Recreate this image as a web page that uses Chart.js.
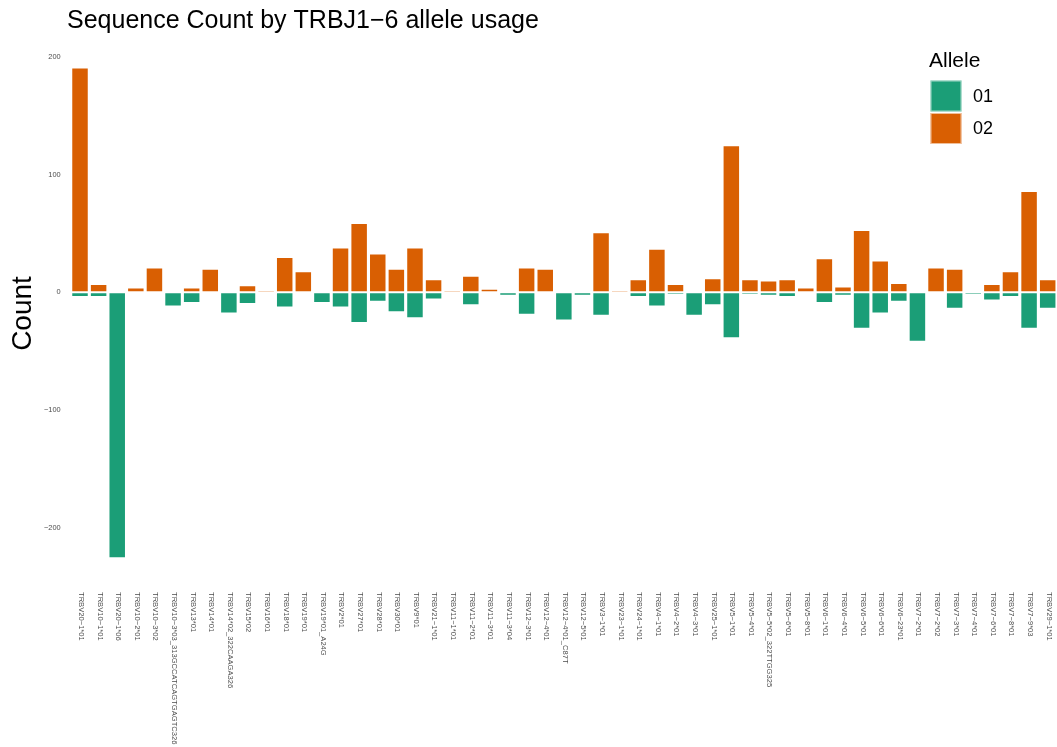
<!DOCTYPE html>
<html>
<head>
<meta charset="utf-8">
<script src="https://cdn.jsdelivr.net/npm/chart.js@4.4.1/dist/chart.umd.min.js"></script>
<style>
  html, body { margin: 0; padding: 0; background: #ffffff; }
  #c { display: block; }
</style>
</head>
<body>
<canvas id="c" width="1057" height="747" style="width:1057px;height:747px"></canvas>
<script>
const chartTitle = "Sequence Count by TRBJ1\u22126 allele usage";
const yAxisTitle = "Count";
const legendTitle = "Allele";

const categories = [
  "TRBV20-1*01","TRBV10-1*01","TRBV20-1*06","TRBV10-2*01","TRBV10-3*02",
  "TRBV10-3*03_313GCCATCAGTGAGTC326","TRBV13*01","TRBV14*01","TRBV14*02_322CAAGA326","TRBV15*02",
  "TRBV16*01","TRBV18*01","TRBV19*01","TRBV19*01_A24G","TRBV2*01",
  "TRBV27*01","TRBV28*01","TRBV30*01","TRBV9*01","TRBV21-1*01",
  "TRBV11-1*01","TRBV11-2*01","TRBV11-3*01","TRBV11-3*04","TRBV12-3*01",
  "TRBV12-4*01","TRBV12-4*01_C87T","TRBV12-5*01","TRBV3-1*01","TRBV23-1*01",
  "TRBV24-1*01","TRBV4-1*01","TRBV4-2*01","TRBV4-3*01","TRBV25-1*01",
  "TRBV5-1*01","TRBV5-4*01","TRBV5-5*02_322TTGG325","TRBV5-6*01","TRBV5-8*01",
  "TRBV6-1*01","TRBV6-4*01","TRBV6-5*01","TRBV6-6*01","TRBV6-23*01",
  "TRBV7-2*01","TRBV7-2*02","TRBV7-3*01","TRBV7-4*01","TRBV7-6*01",
  "TRBV7-8*01","TRBV7-9*03","TRBV29-1*01"
];

// allele 01 counts, drawn downward (negative)
const allele01 = [
  -4, -4, -226, 0, -1,
  -12, -9, 0, -18, -10,
  -1, -13, 0, -9, -13,
  -26, -8, -17, -22, -6,
  -1, -11, 0, -3, -19,
  0, -24, -3, -20, -1,
  -4, -12, -2, -20, -11,
  -39, -2, -3, -4, 0,
  -9, -3, -31, -18, -8,
  -42, 0, -14, -2, -7,
  -4, -31, -14
];

// allele 02 counts, drawn upward
const allele02 = [
  191, 7, 0, 4, 21,
  0, 4, 20, 0, 6,
  2, 30, 18, 0, 38,
  59, 33, 20, 38, 11,
  2, 14, 3, 0, 21,
  20, 0, 0, 51, 2,
  11, 37, 7, 0, 12,
  125, 11, 10, 11, 4,
  29, 5, 53, 27, 8,
  0, 21, 20, 0, 7,
  18, 86, 11
];

const seriesNames = ["01", "02"];
const seriesColors = ["#1B9E77", "#D95F02"];
const yTicks = [-200, -100, 0, 100, 200];
const yMin = -247, yMax = 211;

const FONT = '"Liberation Sans", Arial, Helvetica, sans-serif';
const minus = s => String(s).replace(/-/g, "\u2212");

const overlayPlugin = {
  id: 'overlay',
  afterDraw(chart) {
    const ctx = chart.ctx;
    const xs = chart.scales.x;
    ctx.save();
    // Title
    ctx.fillStyle = '#000000';
    ctx.font = '25px ' + FONT;
    ctx.textAlign = 'left';
    ctx.textBaseline = 'alphabetic';
    ctx.fillText(chartTitle, 67, 28);

    // X tick labels, rotated clockwise
    ctx.fillStyle = '#4d4d4d';
    ctx.font = '7.6px ' + FONT;
    chart.data.labels.forEach((lab, i) => {
      const x = xs.getPixelForValue(i);
      ctx.save();
      ctx.translate(x + 1, chart.chartArea.bottom + 9);
      ctx.rotate(Math.PI / 2);
      ctx.textAlign = 'left';
      ctx.textBaseline = 'middle';
      ctx.fillText(minus(lab), 0, 0);
      ctx.restore();
    });

    // Legend
    ctx.fillStyle = '#000000';
    ctx.font = '21px ' + FONT;
    ctx.textAlign = 'left';
    ctx.textBaseline = 'alphabetic';
    ctx.fillText(legendTitle, 929, 67);
    chart.data.datasets.forEach((ds, i) => {
      const bx = 930.5, by = 80.5 + i * 32.5, bs = 31;
      ctx.fillStyle = ds.backgroundColor;
      ctx.fillRect(bx, by, bs, bs);
      ctx.strokeStyle = 'rgba(255,255,255,0.6)';
      ctx.lineWidth = 1;
      ctx.strokeRect(bx + 0.5, by + 0.5, bs - 1, bs - 1);
      ctx.fillStyle = '#000000';
      ctx.font = '18px ' + FONT;
      ctx.textBaseline = 'middle';
      ctx.fillText(ds.label, 973, by + bs / 2 + 1);
    });
    ctx.restore();
  }
};

new Chart(document.getElementById('c'), {
  type: 'bar',
  data: {
    labels: categories,
    datasets: [
      { label: seriesNames[0], data: allele01, backgroundColor: seriesColors[0],
        borderColor: 'rgba(255,255,255,0.35)', borderWidth: 1, borderSkipped: false,
        barPercentage: 0.94, categoryPercentage: 1.0, stack: 's' },
      { label: seriesNames[1], data: allele02, backgroundColor: seriesColors[1],
        borderColor: 'rgba(255,255,255,0.35)', borderWidth: 1, borderSkipped: false,
        barPercentage: 0.94, categoryPercentage: 1.0, stack: 's' }
    ]
  },
  options: {
    responsive: false,
    animation: false,
    devicePixelRatio: 1,
    layout: { padding: { top: 44, left: 0, right: 0, bottom: 0 } },
    plugins: {
      legend: { display: false },
      title: { display: false },
      tooltip: { enabled: false }
    },
    scales: {
      x: {
        stacked: true,
        grid: { display: false, drawTicks: false },
        border: { display: false },
        ticks: { display: false },
        afterFit(scale) { scale.height = 164; }
      },
      y: {
        stacked: true,
        min: yMin,
        max: yMax,
        grid: { display: false, drawTicks: false },
        border: { display: false },
        afterBuildTicks(scale) { scale.ticks = yTicks.map(v => ({ value: v })); },
        afterFit(scale) { scale.width = 70.7; },
        ticks: {
          padding: 10,
          color: '#4d4d4d',
          font: { family: FONT, size: 7.4 },
          callback: v => minus(v)
        },
        title: {
          display: true,
          text: yAxisTitle,
          color: '#000000',
          font: { family: FONT, size: 28 },
          padding: { top: 6, bottom: 0 }
        }
      }
    }
  },
  plugins: [overlayPlugin]
});
</script>
</body>
</html>
